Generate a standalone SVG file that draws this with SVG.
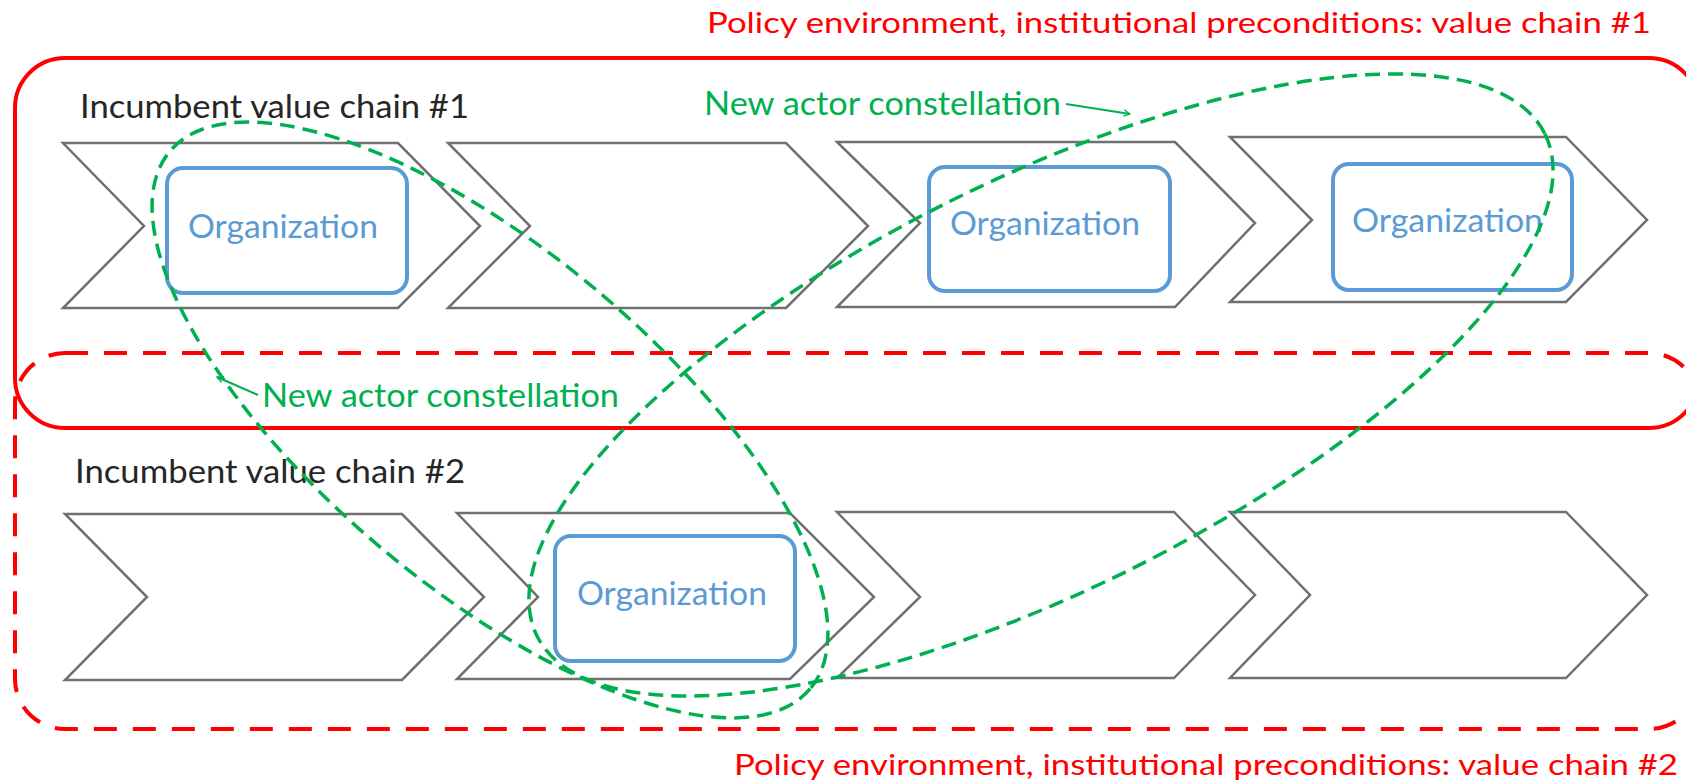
<svg xmlns="http://www.w3.org/2000/svg" width="1686" height="783" viewBox="0 0 1686 783">
<defs>
<style>
.frame{fill:none;stroke:#FF0000;stroke-width:4}
.dashed{stroke-dasharray:23 16}
.chev{fill:#fff;stroke:#707070;stroke-width:2.5;stroke-linejoin:miter}
.org{fill:#fff;stroke:#5B9BD5;stroke-width:4}
.orgt{fill:#5B9BD5;font-family:Lato,"Liberation Sans",sans-serif;font-size:32px}
.lbl{fill:#262626;font-family:Lato,"Liberation Sans",sans-serif;font-size:32px}
.red{fill:#FF0000;font-family:Lato,"Liberation Sans",sans-serif;font-size:28px}
.grn{fill:#00B050;font-family:Lato,"Liberation Sans",sans-serif;font-size:32px}
.ell{fill:none;stroke:#00B050;stroke-width:3.5;stroke-dasharray:15 8}
.lead{fill:none;stroke:#00B050;stroke-width:2}
</style>
<marker id="arr" viewBox="0 0 10 10" refX="9" refY="5" markerWidth="8" markerHeight="8" markerUnits="userSpaceOnUse" orient="auto">
<path d="M1,1 L9,5 L1,9" fill="none" stroke="#00B050" stroke-width="1.5"/>
</marker>
</defs>
<rect width="1686" height="783" fill="#fff"/>
<g id="policy1">
<rect class="frame" x="15" y="58" width="1684" height="370" rx="50"/>
<text class="red" x="707" y="33" textLength="944" lengthAdjust="spacingAndGlyphs">Policy environment, institutional preconditions: value chain #1</text>
</g>
<g id="policy2">
<rect class="frame dashed" x="15" y="353" width="1684" height="376" rx="50"/>
<text class="red" x="734" y="775" textLength="944" lengthAdjust="spacingAndGlyphs">Policy environment, institutional preconditions: value chain #2</text>
</g>
<g id="chain1">
<text class="lbl" x="80" y="118" textLength="389" lengthAdjust="spacingAndGlyphs">Incumbent value chain #1</text>
<polygon class="chev" points="63,143 398,143 480,226 398,308 63,308 144,226"/>
<polygon class="chev" points="448,143 786,143 868,226 786,308 448,308 530,226"/>
<polygon class="chev" points="837,142 1175,142 1255,223 1175,307 837,307 920,223"/>
<polygon class="chev" points="1230,137 1566,137 1647,220 1566,302 1230,302 1312,220"/>
</g>
<g id="chain2">
<text class="lbl" x="75" y="483" textLength="390" lengthAdjust="spacingAndGlyphs">Incumbent value chain #2</text>
<polygon class="chev" points="65,514 402,514 484,597 402,680 65,680 147,597"/>
<polygon class="chev" points="457,513 790,513 874,597 790,679 457,679 538,597"/>
<polygon class="chev" points="837,512 1174,512 1255,595 1174,678 837,678 920,597"/>
<polygon class="chev" points="1230,512 1566,512 1647,595 1566,678 1230,678 1310,595"/>
</g>
<g id="org1">
<rect class="org" x="167" y="168" width="240" height="125" rx="16"/>
<text class="orgt" x="188" y="238" textLength="190" lengthAdjust="spacingAndGlyphs">Organization</text>
</g>
<g id="org3">
<rect class="org" x="929" y="167" width="241" height="124" rx="16"/>
<text class="orgt" x="950" y="235" textLength="190" lengthAdjust="spacingAndGlyphs">Organization</text>
</g>
<g id="org4">
<rect class="org" x="1333" y="164" width="239" height="126" rx="16"/>
<text class="orgt" x="1352" y="232" textLength="191" lengthAdjust="spacingAndGlyphs">Organization</text>
</g>
<g id="org2">
<rect class="org" x="555" y="536" width="240" height="125" rx="16"/>
<text class="orgt" x="577" y="605" textLength="190" lengthAdjust="spacingAndGlyphs">Organization</text>
</g>
<g id="constellationA">
<ellipse class="ell" cx="490" cy="420" rx="418" ry="168" transform="rotate(40 490 420)"/>
<text class="grn" x="262" y="407" textLength="357" lengthAdjust="spacingAndGlyphs">New actor constellation</text>
</g>
<g id="constellationB">
<ellipse class="ell" cx="1041" cy="385" rx="563" ry="205" transform="rotate(-26.5 1041 385)"/>
<text class="grn" x="704" y="115" textLength="357" lengthAdjust="spacingAndGlyphs">New actor constellation</text>
</g>
<g id="connectors">
<path class="lead" d="M1066,104 L1130,114" marker-end="url(#arr)"/>
<path class="lead" d="M258,395 L217,377" marker-end="url(#arr)"/>
</g>
</svg>
